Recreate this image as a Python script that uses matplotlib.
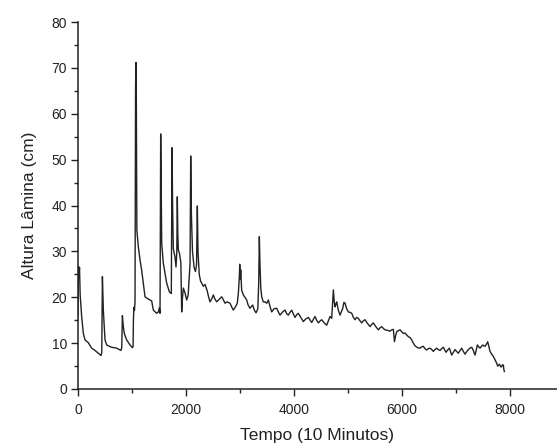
import matplotlib
matplotlib.use("Agg")
import matplotlib.pyplot as plt
from matplotlib.ticker import MultipleLocator

time_min = [0, 8, 18, 28, 40, 68, 99, 130, 191, 253, 315, 377, 426, 440, 452, 469, 500, 531, 580, 624,
            716, 796, 810, 822, 840, 858, 901, 963, 1006, 1020, 1026, 1035, 1046, 1056, 1066, 1074, 1080,
            1090, 1117, 1150, 1179, 1241, 1302, 1364, 1395, 1430, 1457, 1488, 1506, 1519, 1531, 1540,
            1550, 1580, 1642, 1691, 1728, 1741, 1752, 1765, 1796, 1815, 1830, 1839, 1848, 1858, 1880,
            1905, 1920, 1935, 1951, 1980, 2013, 2040, 2075, 2087, 2100, 2120, 2150, 2175, 2195, 2210,
            2222, 2245, 2270, 2290, 2320, 2352, 2390, 2420, 2445, 2475, 2506, 2535, 2568, 2610, 2661,
            2690, 2722, 2760, 2815, 2850, 2876, 2910, 2950, 2970, 2988, 2995, 3005, 3013, 3031, 3062,
            3090, 3124, 3150, 3185, 3235, 3265, 3297, 3330, 3346, 3358, 3370, 3385, 3402, 3430, 3463,
            3495, 3525, 3555, 3587, 3630, 3680, 3710, 3741, 3790, 3834, 3865, 3895, 3925, 3957, 3990,
            4019, 4050, 4080, 4125, 4173, 4220, 4266, 4300, 4327, 4360, 4389, 4420, 4451, 4480, 4513,
            4560, 4605, 4640, 4667, 4698, 4715, 4729, 4745, 4760, 4775, 4791, 4820, 4852, 4900, 4925,
            4945, 4975, 5006, 5040, 5069, 5100, 5130, 5160, 5191, 5220, 5254, 5285, 5315, 5360, 5408,
            5440, 5469, 5515, 5562, 5590, 5624, 5655, 5686, 5730, 5778, 5810, 5840, 5852, 5860, 5880,
            5902, 5930, 5963, 5995, 6025, 6055, 6087, 6118, 6150, 6180, 6210, 6241, 6290, 6334, 6365,
            6395, 6425, 6457, 6490, 6519, 6550, 6580, 6610, 6643, 6670, 6704, 6735, 6766, 6790, 6815,
            6845, 6877, 6900, 6920, 6950, 6982, 7010, 7043, 7075, 7106, 7135, 7167, 7195, 7228, 7260,
            7291, 7320, 7352, 7375, 7395, 7420, 7445, 7470, 7495, 7515, 7537, 7565, 7587, 7610, 7630,
            7660, 7692, 7720, 7754, 7770, 7785, 7800, 7815, 7830, 7847, 7862, 7877, 7885, 7895]

altura_cm = [16.0, 26.8, 24.5, 26.5, 20.5, 15.8, 12.1, 10.7, 10.1, 8.9, 8.4, 7.8, 7.3, 8.0, 24.5, 17.2,
             10.7, 9.6, 9.3, 9.1, 8.9, 8.4, 9.0, 16.0, 13.5, 12.1, 10.7, 9.6, 9.0, 9.2, 15.0, 17.8,
             17.2, 19.0, 65.5, 71.2, 64.0, 34.6, 31.0, 28.0, 25.9, 20.1, 19.6, 19.2, 17.2, 16.8, 16.5,
             16.8, 17.7, 16.5, 55.6, 46.0, 31.7, 27.4, 23.1, 21.2, 20.8, 52.6, 40.0, 30.6, 28.8, 26.6,
             30.0, 41.9, 34.0, 30.3, 29.5, 27.5, 16.8, 20.0, 22.0, 21.0, 19.4, 20.5, 27.4, 50.8, 38.0,
             30.0, 26.5, 25.6, 27.0, 39.9, 30.0, 25.0, 23.5, 23.1, 22.4, 22.8, 21.5, 20.0, 19.0, 19.6,
             20.5, 19.6, 19.0, 19.5, 20.1, 19.5, 18.7, 19.0, 18.7, 17.8, 17.2, 17.8, 18.7, 21.0, 24.5,
             27.2, 24.0, 26.0, 21.5, 20.5, 20.0, 19.4, 18.3, 17.6, 18.3, 17.2, 16.6, 17.5, 23.0, 33.2,
             27.0, 22.0, 20.1, 19.0, 19.0, 18.7, 19.4, 18.0, 16.8, 17.5, 17.6, 16.8, 16.1, 16.8, 17.2,
             16.4, 16.1, 16.7, 17.2, 16.3, 15.6, 16.2, 16.5, 15.6, 14.7, 15.3, 15.6, 15.0, 14.5, 15.2,
             15.8, 15.0, 14.4, 14.8, 15.1, 14.4, 13.9, 15.0, 15.8, 15.4, 19.0, 21.6, 19.0, 17.9, 18.5,
             19.0, 17.2, 16.1, 17.5, 18.9, 18.7, 17.5, 16.8, 16.7, 16.5, 15.6, 15.1, 15.6, 15.4, 14.9,
             14.4, 14.9, 15.1, 14.3, 13.6, 14.1, 14.4, 13.6, 12.9, 13.3, 13.6, 13.2, 12.9, 12.8, 12.6,
             12.9, 13.0, 11.4, 10.3, 11.5, 12.5, 12.7, 12.9, 12.5, 12.1, 12.2, 11.8, 11.4, 11.2, 10.7,
             10.0, 9.4, 9.0, 8.9, 9.2, 9.3, 8.8, 8.5, 8.8, 8.9, 8.6, 8.2, 8.6, 8.9, 8.6, 8.4, 8.8, 9.1,
             8.5, 8.0, 8.5, 8.9, 8.1, 7.4, 8.0, 8.6, 8.2, 7.8, 8.4, 8.9, 8.2, 7.6, 8.1, 8.6, 8.9, 9.1,
             8.4, 7.4, 8.5, 9.6, 9.2, 8.9, 9.3, 9.6, 9.4, 9.3, 9.8, 10.3, 9.2, 8.2, 7.6, 7.1, 6.4, 5.6,
             5.0, 5.1, 5.4, 5.2, 4.8, 4.9, 5.3, 5.2, 4.3, 3.8]

x_ticks = [0, 2000, 4000, 6000, 8000]
y_ticks = [0, 10, 20, 30, 40, 50, 60, 70, 80]

plt.rcParams['font.family'] = ['Liberation Sans', 'DejaVu Sans']

fig = plt.figure(figsize=(5.57, 4.45), dpi=100)
ax = fig.add_axes([78 / 557, 1 - 389 / 445, 479 / 557, (389 - 22) / 445])

ax.plot(time_min, altura_cm, color='#222222', lw=1.0)

ax.set_xlim(0, 8870)
ax.set_ylim(0, 80)
ax.set_xticks(x_ticks)
ax.set_yticks(y_ticks)
ax.xaxis.set_minor_locator(MultipleLocator(1000))
ax.yaxis.set_minor_locator(MultipleLocator(5))

for s in ['top', 'right']:
    ax.spines[s].set_visible(False)
for s in ['left', 'bottom']:
    ax.spines[s].set_linewidth(1.1)
    ax.spines[s].set_color('#222222')

ax.tick_params(which='major', direction='out', length=5, width=1.0, labelsize=10,
               colors='#222222', pad=3)
ax.tick_params(which='minor', direction='out', length=2.8, width=1.0, colors='#222222')
ax.tick_params(axis='x', which='major', pad=5)

ax.set_xlabel('Tempo (10 Minutos)', fontsize=12.5, color='#222222', labelpad=8)
ax.set_ylabel('Altura Lâmina (cm)', fontsize=12.5, color='#222222', labelpad=10)

fig.savefig('out.png', dpi=100)
